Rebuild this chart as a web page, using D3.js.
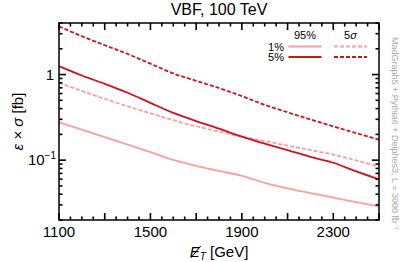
<!DOCTYPE html>
<html>
<head>
<meta charset="utf-8">
<script src="https://cdn.jsdelivr.net/npm/d3@7"></script>
<style>
  body { margin: 0; background: #fff; }
  svg { display: block; font-family: "Liberation Sans", Arial, sans-serif; }
</style>
</head>
<body>
<div id="chart"></div>
<script>
// missing E_T bins [GeV]
var energies = [1100, 1200, 1300, 1400, 1500, 1600, 1700, 1800, 1900, 2000, 2100, 2200, 2300, 2400, 2500];
// 95% exclusion, 1% and 5% systematics
var excl1 = [0.276, 0.227, 0.186, 0.152, 0.124, 0.1005, 0.0856, 0.0749, 0.0656, 0.0544, 0.0469, 0.0413, 0.0366, 0.0323, 0.0288];
var excl5 = [1.255, 0.974, 0.780, 0.613, 0.467, 0.356, 0.286, 0.233, 0.188, 0.156, 0.131, 0.109, 0.0933, 0.0739, 0.0597];
// 5 sigma discovery, 1% and 5% systematics
var disc1 = [0.803, 0.644, 0.520, 0.425, 0.353, 0.293, 0.249, 0.215, 0.188, 0.167, 0.148, 0.131, 0.116, 0.0993, 0.0838];
var disc5 = [3.65, 2.80, 2.20, 1.74, 1.34, 1.03, 0.845, 0.696, 0.560, 0.442, 0.362, 0.299, 0.248, 0.207, 0.174];

var xTickLabels = [1100, 1500, 1900, 2300];

var width = 407, height = 262;
var margin = { top: 23, right: 28, bottom: 42, left: 59 };

var dark = "#d0121b";
var light = "#ff9c9c";

var svg = d3.select("#chart").append("svg")
    .attr("width", width)
    .attr("height", height);

var x = d3.scaleLinear()
    .domain([1100, 2500])
    .range([margin.left, width - margin.right]);

var y = d3.scaleLog()
    .domain([0.02, 4])
    .range([height - margin.bottom, margin.top]);

var plotLeft = x.range()[0], plotRight = x.range()[1];
var plotBottom = y.range()[0], plotTop = y.range()[1];

//Tick positions
var xMajor = d3.range(1100, 2501, 200);
var xMinor = d3.range(1100, 2501, 50).filter(function(v){ return xMajor.indexOf(v) < 0; });
var yMajor = [0.1, 1];
var yMinor = [];
[0.01, 0.1, 1].forEach(function(dec){
    for (var k = 2; k <= 9; k++){
        var v = dec * k;
        if (v >= 0.02 && v <= 4.0001) yMinor.push(v);
    }
});

//Curves
var line = d3.line()
    .x(function(d){ return x(d[0]); })
    .y(function(d){ return y(d[1]); })
    .curve(d3.curveMonotoneX);

var series = [
    { vals: excl1, color: light, dash: null },
    { vals: disc1, color: light, dash: "4,2" },
    { vals: excl5, color: dark, dash: null },
    { vals: disc5, color: dark, dash: "4,2" }
];

var plot = svg.append("g");
series.forEach(function(s){
    plot.append("path")
        .datum(energies.map(function(e, i){ return [e, s.vals[i]]; }))
        .attr("d", line)
        .attr("fill", "none")
        .attr("stroke", s.color)
        .attr("stroke-width", 1.8)
        .attr("stroke-dasharray", s.dash);
});

//Frame
svg.append("rect")
    .attr("x", plotLeft).attr("y", plotTop)
    .attr("width", plotRight - plotLeft).attr("height", plotBottom - plotTop)
    .attr("fill", "none")
    .attr("stroke", "#000")
    .attr("stroke-width", 1.5);

//Inward ticks on all four sides as small filled bars
var majLen = 7, minLen = 3.5, tw = 1.6;
var tickBars = [];
xMajor.forEach(function(v){ tickBars.push({ v: v, axis: "x", len: majLen }); });
xMinor.forEach(function(v){ tickBars.push({ v: v, axis: "x", len: minLen }); });
yMajor.forEach(function(v){ tickBars.push({ v: v, axis: "y", len: majLen }); });
yMinor.forEach(function(v){ tickBars.push({ v: v, axis: "y", len: minLen }); });

var tg = svg.append("g").attr("fill", "#000");
tickBars.forEach(function(t){
    if (t.axis === "x"){
        var px = x(t.v) - tw / 2;
        tg.append("rect").attr("x", px).attr("y", plotBottom - t.len).attr("width", tw).attr("height", t.len);
        tg.append("rect").attr("x", px).attr("y", plotTop).attr("width", tw).attr("height", t.len);
    } else {
        var py = y(t.v) - tw / 2;
        tg.append("rect").attr("x", plotLeft).attr("y", py).attr("width", t.len).attr("height", tw);
        tg.append("rect").attr("x", plotRight - t.len).attr("y", py).attr("width", t.len).attr("height", tw);
    }
});

//X tick labels
svg.selectAll(".xlab").data(xTickLabels).enter()
    .append("text")
    .attr("class", "xlab")
    .attr("x", function(d){ return x(d); })
    .attr("y", plotBottom + 17)
    .attr("text-anchor", "middle")
    .attr("font-size", 15)
    .text(function(d){ return d; });

//Y tick labels
svg.append("text")
    .attr("x", plotLeft - 5).attr("y", y(1) + 5)
    .attr("text-anchor", "end")
    .attr("font-size", 15)
    .text("1");
var tl = svg.append("text")
    .attr("x", plotLeft - 3).attr("y", y(0.1) + 5)
    .attr("text-anchor", "end")
    .attr("font-size", 15);
tl.append("tspan").text("10");
tl.append("tspan").attr("font-size", 10).attr("dy", -6).text("\u22121");

//Title
svg.append("text")
    .attr("x", (plotLeft + plotRight) / 2).attr("y", 15)
    .attr("text-anchor", "middle")
    .attr("font-size", 16)
    .text("VBF, 100 TeV");

//Axis titles
var yl = svg.append("text")
    .attr("transform", "translate(23," + ((plotTop + plotBottom) / 2) + ") rotate(-90)")
    .attr("text-anchor", "middle")
    .attr("font-size", 15);
yl.append("tspan").attr("font-style", "italic").text("\u03b5");
yl.append("tspan").text(" \u00d7 ");
yl.append("tspan").attr("font-style", "italic").text("\u03c3");
yl.append("tspan").text(" [fb]");

var xl = svg.append("text")
    .attr("x", (plotLeft + plotRight) / 2).attr("y", 257)
    .attr("text-anchor", "middle")
    .attr("font-size", 15);
xl.append("tspan").attr("font-style", "italic").text("E");
xl.append("tspan").attr("font-style", "italic").attr("font-size", 10).attr("dy", 3).text("T");
xl.append("tspan").attr("dy", -3).text(" [GeV]");
//slash through the E
var eBox = xl.node().getExtentOfChar(0);
svg.append("line")
    .attr("x1", eBox.x + 1).attr("y1", eBox.y + eBox.height - 2)
    .attr("x2", eBox.x + eBox.width + 1).attr("y2", eBox.y + 3)
    .attr("stroke", "#000").attr("stroke-width", 1);

//Legend
var legCols = [
    { x: 305, dash: null },
    { x: 350.5, dash: "4,2" }
];
var legRows = [
    { y: 46.5, label: "1%", color: light },
    { y: 57, label: "5%", color: dark }
];
var lg = svg.append("g").attr("font-size", 11);
lg.append("text").attr("x", 305).attr("y", 39).attr("text-anchor", "middle").text("95%");
var sh = lg.append("text").attr("x", 350.5).attr("y", 39).attr("text-anchor", "middle");
sh.append("tspan").text("5");
sh.append("tspan").attr("font-style", "italic").text("\u03c3");
legRows.forEach(function(r){
    lg.append("text")
        .attr("x", 284).attr("y", r.y + 4)
        .attr("text-anchor", "end")
        .text(r.label);
    legCols.forEach(function(c){
        lg.append("line")
            .attr("x1", c.x - 16.5).attr("x2", c.x + 16.5)
            .attr("y1", r.y).attr("y2", r.y)
            .attr("stroke", r.color)
            .attr("stroke-width", 1.8)
            .attr("stroke-dasharray", c.dash);
    });
});

//Generator note on the right side
var note = svg.append("text")
    .attr("transform", "translate(392,37) rotate(90)")
    .attr("font-size", 9)
    .attr("fill", "#aaaaaa");
note.append("tspan").text("MadGraph5 + Pythia6 + Delphes3,  L = 3000 fb");
note.append("tspan").attr("font-size", 6).attr("dy", -3).text("\u22121");
</script>
</body>
</html>
